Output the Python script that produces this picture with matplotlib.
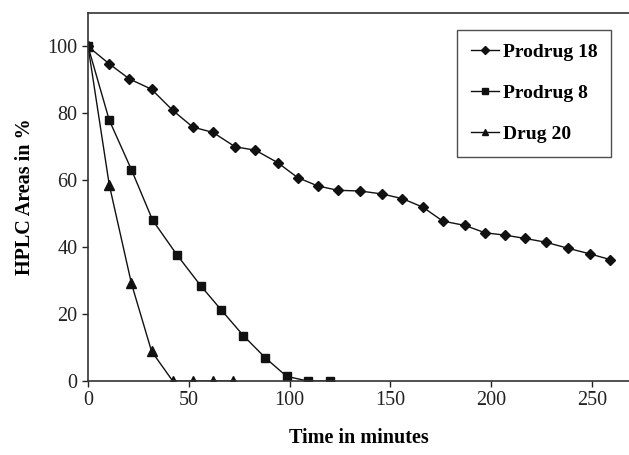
import matplotlib.pyplot as plt

# values
t_prodrug18 = [0, 10.5, 20.5, 31.5, 42, 52, 62, 73, 83, 94, 104, 114, 124, 135,
               146, 156, 166, 176, 187, 197, 207, 217, 227, 238, 249, 259]
a_prodrug18 = [100, 94.8, 90.3, 87.2, 80.9, 75.9, 74.3, 70.0, 69.0, 65.3, 60.8, 58.3,
               57.0, 56.8, 55.9, 54.5, 52.0, 47.8, 46.5, 44.3, 43.6, 42.6, 41.5,
               39.7, 38.0, 36.3]

t_prodrug8 = [0, 10.5, 21.5, 32, 44, 56, 66, 77, 88, 98.5, 109, 120]
a_prodrug8 = [100, 78, 63.2, 48.1, 37.8, 28.4, 21.3, 13.6, 6.9, 1.4, 0, 0]

t_drug20 = [0, 10.5, 21.5, 31.5, 42, 52, 62, 72]
a_drug20 = [100, 58.7, 29.2, 8.9, 0, 0, 0, 0]

plt.rcParams['font.family'] = ['Liberation Serif', 'DejaVu Serif']

fig = plt.figure(figsize=(6.29, 4.55), dpi=100)
ax = fig.add_axes([0.140, 0.1626, 0.862, 0.8088])

col = '#111111'
lw = 1.0
ax.plot(t_prodrug18, a_prodrug18, color=col, lw=lw, marker='D', ms=5.5, label='Prodrug 18')
ax.plot(t_prodrug8, a_prodrug8, color=col, lw=lw, marker='s', ms=6, label='Prodrug 8')
ax.plot(t_drug20, a_drug20, color=col, lw=lw, marker='^', ms=6.5, label='Drug 20')

ax.set_xlim(0, 269)
ax.set_ylim(0, 110)
ax.set_xticks([0, 50, 100, 150, 200, 250])
ax.set_yticks([0, 20, 40, 60, 80, 100])
ax.tick_params(direction='out', length=4, width=1, labelsize=14.5, colors='#222222')
ax.spines['right'].set_visible(False)
for s in ['left', 'bottom', 'top']:
    ax.spines[s].set_color('#333333')
    ax.spines[s].set_linewidth(1.2)

ax.set_xlabel('Time in minutes', fontsize=14.5, fontweight='bold', labelpad=13)
ax.set_ylabel('HPLC Areas in %', fontsize=14.5, fontweight='bold', labelpad=9)

leg = ax.legend(loc='upper right', bbox_to_anchor=(611 / 629, 1 - 30 / 455),
                bbox_transform=fig.transFigure, borderaxespad=0, fontsize=14,
                frameon=True, fancybox=False, edgecolor='#222222', labelspacing=1.2,
                handlelength=1.45, handletextpad=0.2, markerscale=0.7,
                borderpad=0.7)
leg.get_frame().set_linewidth(1.0)
for txt in leg.get_texts():
    txt.set_fontweight('bold')

fig.savefig('out.png', dpi=100)
